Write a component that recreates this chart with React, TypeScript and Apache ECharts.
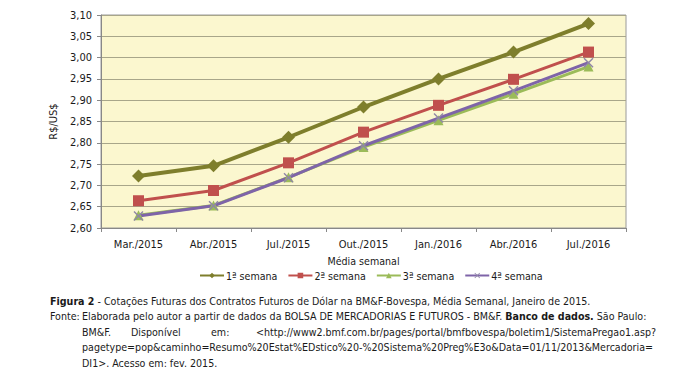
import React, { useEffect, useRef } from "react";
import * as echarts from "echarts";

const categories = ["Mar./2015", "Abr./2015", "Jul./2015", "Out./2015", "Jan./2016", "Abr./2016", "Jul./2016"];
const semana1 = [2.722, 2.746, 2.813, 2.884, 2.95, 3.013, 3.08];
const semana2 = [2.664, 2.688, 2.753, 2.825, 2.888, 2.949, 3.013];
const semana3 = [2.63, 2.653, 2.719, 2.79, 2.853, 2.915, 2.979];
const semana4 = [2.628, 2.652, 2.718, 2.793, 2.858, 2.922, 2.988];
const seriesNames = ["1ª semana", "2ª semana", "3ª semana", "4ª semana"];

const FONT = "'DejaVu Sans Condensed', 'DejaVu Sans', sans-serif";
const XSYM = "path://M0,1L1,0L5,4L9,0L10,1L6,5L10,9L9,10L5,6L1,10L0,9L4,5Z";
const FS = 10.6;

export default function App() {
  const ref = useRef<HTMLDivElement>(null);
  useEffect(() => {
    const chart = echarts.init(ref.current!, undefined, { renderer: "svg" });
    const txt = { fontFamily: FONT, fontSize: FS, fill: "#1a1a1a" };
    const rich = { b: { fontFamily: FONT, fontSize: FS, fontWeight: "bold", fill: "#1a1a1a" } };
    chart.setOption({
      animation: false,
      backgroundColor: "#ffffff",
      textStyle: { fontFamily: FONT },
      grid: {
        left: 101,
        right: 53,
        top: 15,
        bottom: 164,
        show: true,
        backgroundColor: "#FBF7CF",
        borderColor: "#9a9a9a",
        borderWidth: 1,
      },
      legend: {
        top: 265,
        left: 194,
        itemWidth: 24,
        itemHeight: 7,
        itemGap: 10,
        textStyle: { fontFamily: FONT, fontSize: FS, color: "#1a1a1a", padding: [0, 0, 0, -3] },
        data: seriesNames,
      },
      xAxis: {
        type: "category",
        data: categories,
        boundaryGap: true,
        name: "Média semanal",
        nameLocation: "middle",
        nameGap: 27,
        nameTextStyle: { fontFamily: FONT, fontSize: FS, color: "#1a1a1a" },
        axisLine: { lineStyle: { color: "#888" } },
        axisTick: { show: true, length: 4, lineStyle: { color: "#888" } },
        axisLabel: { fontFamily: FONT, fontSize: 11, color: "#1a1a1a", margin: 11 },
      },
      yAxis: {
        type: "value",
        min: 2.6,
        max: 3.1,
        interval: 0.05,
        name: "R$/US$",
        nameLocation: "middle",
        nameGap: 40,
        nameTextStyle: { fontFamily: FONT, fontSize: 11, color: "#1a1a1a" },
        axisLine: { show: true, lineStyle: { color: "#888" } },
        axisTick: { show: true, length: 4, lineStyle: { color: "#888" } },
        axisLabel: {
          fontFamily: FONT,
          fontSize: 11,
          color: "#1a1a1a",
          margin: 9,
          formatter: (v: number) => v.toFixed(2).replace(".", ","),
        },
        splitLine: { lineStyle: { color: "#A8A68A", width: 1 } },
      },
      series: [
        {
          name: seriesNames[0],
          type: "line",
          data: semana1,
          symbol: "diamond",
          symbolSize: 13,
          lineStyle: { color: "#7E7E2C", width: 4 },
          itemStyle: { color: "#7E7E2C" },
        },
        {
          name: seriesNames[1],
          type: "line",
          data: semana2,
          symbol: "rect",
          symbolSize: 11,
          lineStyle: { color: "#C0504D", width: 3 },
          itemStyle: { color: "#C0504D" },
        },
        {
          name: seriesNames[2],
          type: "line",
          data: semana3,
          symbol: "triangle",
          symbolSize: 10,
          lineStyle: { color: "#9BBB59", width: 3 },
          itemStyle: { color: "#9BBB59" },
        },
        {
          name: seriesNames[3],
          type: "line",
          data: semana4,
          symbol: XSYM,
          symbolSize: 10,
          lineStyle: { color: "#7E64A8", width: 3 },
          itemStyle: { color: "#8F86A6" },
        },
      ],
      graphic: [
        {
          type: "text",
          left: 50,
          top: 295,
          style: {
            ...txt,
            text: "{b|Figura 2} - Cotações Futuras dos Contratos Futuros de Dólar na BM&F-Bovespa, Média Semanal, Janeiro de 2015.",
            rich,
          },
        },
        { type: "text", left: 50, top: 310.5, style: { ...txt, text: "Fonte:" } },
        {
          type: "text",
          left: 82,
          top: 310.5,
          style: {
            ...txt,
            text: "Elaborada pelo autor a partir de dados da BOLSA DE MERCADORIAS E FUTUROS - BM&F. {b|Banco de dados.} São Paulo:",
            rich,
          },
        },
        { type: "text", left: 82, top: 326, style: { ...txt, text: "BM&F." } },
        { type: "text", left: 131, top: 326, style: { ...txt, text: "Disponível" } },
        { type: "text", left: 211, top: 326, style: { ...txt, text: "em:" } },
        {
          type: "text",
          right: 23,
          top: 326,
          style: { ...txt, text: "<http://www2.bmf.com.br/pages/portal/bmfbovespa/boletim1/SistemaPregao1.asp?" },
        },
        {
          type: "text",
          left: 82,
          top: 341.5,
          style: {
            ...txt,
            text: "pagetype=pop&caminho=Resumo%20Estat%EDstico%20-%20Sistema%20Preg%E3o&Data=01/11/2013&Mercadoria=",
          },
        },
        { type: "text", left: 82, top: 357, style: { ...txt, text: "DI1>. Acesso em: fev. 2015." } },
      ],
    });
    return () => chart.dispose();
  }, []);
  return (
    <div
      ref={ref}
      style={{ position: "absolute", left: 0, top: 0, width: 679, height: 392 }}
    />
  );
}
